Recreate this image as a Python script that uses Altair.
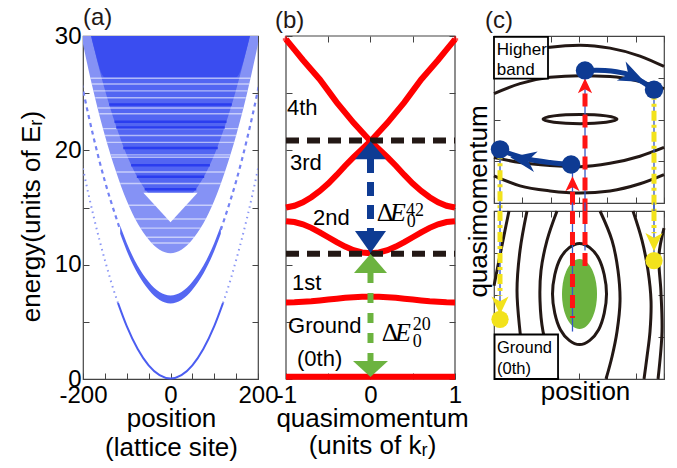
import altair as alt
import pandas as pd

FONT = "Liberation Sans"
SERIF = "Liberation Serif"
INK = "#231815"

# ---------------- panel (a): local spectrum in the trap ----------------
a_x = [-210, -200, -175, -150, -125, -100, -75, -50, -25, 0, 25, 50, 75, 100, 125, 150, 175, 200, 210]
a_band2_lo = [31.2, 29.3, 25.0, 21.3, 18.2, 15.6, 13.6, 12.2, 11.3, 11.0, 11.3, 12.2, 13.6, 15.6, 18.2, 21.3, 25.0, 29.3, 31.2]
a_band3_lo = [35.2, 33.3, 29.0, 25.3, 22.2, 19.6, 17.6, 16.2, 15.3, 15.0, 15.3, 16.2, 17.6, 19.6, 22.2, 25.3, 29.0, 33.3, 35.2]
a_top_lo = [35.2, 33.3, 29.0, 26.4, 26.4, 26.4, 26.4, 26.4, 26.4, 26.4, 26.4, 26.4, 26.4, 26.4, 26.4, 26.4, 29.0, 33.3, 35.2]

a_stripe_E = [26.3, 25.8, 25.2, 24.6, 23.7, 23.2, 21.9, 21.3, 20.7, 19.6, 19.4, 18.1, 17.1, 15.2, 14.0, 13.2, 12.4, 11.9]
a_stripe_half = [183, 180, 176, 172, 166, 163, 154, 150, 145, 137, 135, 124, 115, 96, 81, 69, 55, 44]
a_dark_E = [24.0, 22.5, 22.0, 20.2, 18.7, 17.7, 16.6, 15.6]
a_dark_half = [140, 128, 124, 108, 90, 77, 59, 36]

a_notch_x = [-62, 0, 62]
a_notch_lo = [16.3, 13.7, 16.3]

a_b1_x = [-115, -100, -75, -50, -25, 0, 25, 50, 75, 100, 115]
a_b1_lo = [12.7, 11.2, 9.2, 7.8, 6.9, 6.6, 6.9, 7.8, 9.2, 11.2, 12.7]
a_b1_hi = [13.4, 11.9, 9.9, 8.5, 7.6, 7.3, 7.6, 8.5, 9.9, 11.9, 13.4]
a_b1c_x = [-210, -200, -175, -150, -125, -115, 115, 125, 150, 175, 200, 210]
a_b1c_E = [27.2, 25.3, 21.0, 17.3, 14.2, 13.05, 13.05, 14.2, 17.3, 21.0, 25.3, 27.2]
a_b1c_side = ["L", "L", "L", "L", "L", "L", "R", "R", "R", "R", "R", "R"]

a_g_x = [-120, -100, -75, -50, -25, 0, 25, 50, 75, 100, 120]
a_g_E = [6.65, 4.63, 2.63, 1.2, 0.34, 0.05, 0.34, 1.2, 2.63, 4.63, 6.65]
a_gc_x = [-210, -200, -175, -150, -125, -120, 120, 125, 150, 175, 200, 210]
a_gc_E = [20.3, 18.4, 14.1, 10.4, 7.2, 6.65, 6.65, 7.2, 10.4, 14.1, 18.4, 20.3]
a_gc_side = ["L", "L", "L", "L", "L", "L", "R", "R", "R", "R", "R", "R"]

a_xticks = [-200, -150, -100, -50, 0, 50, 100, 150, 200]
a_yticks = [0, 5, 10, 15, 20, 25, 30]

# ---------------- panel (b): band structure ----------------
b_q = [-1.0, -0.9, -0.8, -0.7, -0.6, -0.5, -0.4, -0.3, -0.2, -0.1, 0.0,
       0.1, 0.2, 0.3, 0.4, 0.5, 0.6, 0.7, 0.8, 0.9, 1.0]
b_E0 = [0.2] * 21
b_E1 = [6.7, 6.71, 6.75, 6.8, 6.87, 6.95, 7.02, 7.1, 7.15, 7.19, 7.2,
        7.19, 7.15, 7.1, 7.02, 6.95, 6.87, 6.8, 6.75, 6.71, 6.7]
b_E2 = [13.8, 13.73, 13.53, 13.22, 12.83, 12.4, 11.97, 11.58, 11.27, 11.07, 11.0,
        11.07, 11.27, 11.58, 11.97, 12.4, 12.83, 13.22, 13.53, 13.73, 13.8]
b_E3 = [15.0, 15.15, 15.45, 15.9, 16.45, 17.1, 17.85, 18.65, 19.4, 20.1, 20.8,
        20.1, 19.4, 18.65, 17.85, 17.1, 16.45, 15.9, 15.45, 15.15, 15.0]
b_E4 = [29.7, 28.8, 27.9, 27.05, 26.2, 25.2, 24.2, 23.3, 22.4, 21.6, 20.8,
        21.6, 22.4, 23.3, 24.2, 25.2, 26.2, 27.05, 27.9, 28.8, 29.7]
b_dash_E = [20.85, 10.95]

b_lbl = ["4th", "3rd", "2nd", "1st", "Ground", "(0th)"]
b_lbl_q = [-0.988, -0.953, -0.68, -0.929, -0.976, -0.87]
b_lbl_E = [23.67, 18.85, 14.04, 8.44, 4.6, 1.75]

b_xticks = [-1, -0.5, 0, 0.5, 1]
b_yticks = [0, 5, 10, 15, 20, 25, 30]

# ---------------- panel (c): phase-space sketch ----------------
c_xticks = [0, 1, 2, 3, 4, 5, 6]
c_yticks = [0, 1, 2, 3, 4]

cu_x = [0, 0.918, 1.977, 3.036, 4.095, 5.153, 6.0]
cu_U1 = [3.32, 3.59, 3.73, 3.78, 3.71, 3.52, 3.27]
cu_U2 = [2.62, 2.86, 3.01, 3.05, 3.03, 2.91, 2.74]
cu_U3 = [1.09, 0.97, 0.90, 0.87, 0.95, 1.12, 1.33]
cu_U4 = [0.65, 0.41, 0.29, 0.24, 0.29, 0.46, 0.68]
cu_ell_x = [4.342, 3.959, 3.036, 2.113, 1.73, 2.113, 3.036, 3.959]
cu_ell_y = [2.01, 2.087, 2.119, 2.087, 2.01, 1.933, 1.901, 1.933]

cl_L1_x = [0.529, 0.353, 0.176, 0.0]
cl_L1_y = [4.0, 3.42, 2.82, 2.22]
cl_L2_x = [1.165, 0.918, 0.812, 0.918, 1.13]
cl_L2_y = [4.0, 3.06, 2.10, 1.13, 0.0]
cl_y7 = [4.0, 3.30, 2.58, 1.86, 1.13, 0.53, 0.0]
cl_L3_x = [2.224, 1.871, 1.659, 1.624, 1.73, 1.977, 2.259]
cl_R1_x = [3.742, 4.165, 4.377, 4.448, 4.342, 4.165, 3.953]
cl_R2_x = [4.906, 5.224, 5.436, 5.542, 5.506, 5.400, 5.295]
cl_R3_x = [6.0, 5.82, 5.89, 5.93, 5.79]
cl_R3_y = [3.59, 2.94, 2.10, 1.13, 0.0]
cl_ell_x = [3.971, 3.692, 3.018, 2.344, 2.065, 2.344, 3.018, 3.692]
cl_ell_y = [2.024, 2.876, 3.229, 2.876, 2.024, 1.172, 0.819, 1.172]

BLUE = "#0e3b93"
RED = "#ff1414"
YEL = "#f2e21c"
GREEN = "#6cb33f"
THIN = "#3557c7"
FRAME = "#444444"

UP_TRI_B = "M-1,0.58L0,-0.58L1,0.58Z"
DN_TRI_B = "M-1,-0.71L0,0.71L1,-0.71Z"
UP_TRI_G = "M-1,0.58L0,-0.58L1,0.58Z"
DN_TRI_G = "M-1,-0.46L0,0.46L1,-0.46Z"
ARROW_R = "M1,0L-1,-0.8L-0.4,0L-1,0.8Z"
ARROW_UP = "M0,-1L0.9,0.9L0,0.4L-0.9,0.9Z"
ARROW_DN = "M0,1L0.9,-0.9L0,-0.4L-0.9,-0.9Z"
ELLIPSE = ("M-1,0C-1,-1.1046,-0.5523,-2,0,-2C0.5523,-2,1,-1.1046,1,0"
           "C1,1.1046,0.5523,2,0,2C-0.5523,2,-1,1.1046,-1,0Z")


def sc(dom):
    return alt.Scale(domain=dom, nice=False, zero=False)


def common(off=-6):
    return dict(domain=False, grid=False, ticks=True, tickSize=6, offset=off,
                tickColor=FRAME, tickWidth=1)


def frame_axes(xdom, ydom, xticks, yticks, xmain, ymain, right_off=-6):
    d = pd.DataFrame({"fx": [xdom[0]], "fy": [ydom[0]]})
    main = alt.Chart(d).mark_point(opacity=0).encode(
        x=alt.X("fx:Q", scale=sc(xdom), axis=alt.Axis(orient="bottom", values=xticks, **common(), **xmain)),
        y=alt.Y("fy:Q", scale=sc(ydom), axis=alt.Axis(orient="left", values=yticks, **common(), **ymain)),
    )
    opp = alt.Chart(d).mark_point(opacity=0).encode(
        x=alt.X("fx:Q", scale=sc(xdom), axis=alt.Axis(orient="top", values=xticks, labels=False, title=None, **common())),
        y=alt.Y("fy:Q", scale=sc(ydom), axis=alt.Axis(orient="right", values=yticks, labels=False, title=None,
                                                      **common(right_off))),
    )
    return [main, opp]


def panel_label(txt, dx, dy):
    return alt.Chart(pd.DataFrame({"t": [txt]})).mark_text(
        align="left", baseline="middle", fontSize=24, font=FONT, color=INK
    ).encode(x=alt.value(dx), y=alt.value(dy), text="t:N")


# ======== build (a) ========
AX = [-200, 200]
AY = [0, 30]
ax_ = lambda f: alt.X(f, scale=sc(AX), axis=None)
ay_ = lambda f: alt.Y(f, scale=sc(AY), axis=None)

dfa = pd.DataFrame({"x": a_x, "b2": a_band2_lo, "b3": a_band3_lo, "tp": a_top_lo})
a_b2 = alt.Chart(dfa).mark_area(color="#8592f5", interpolate="monotone", clip=True).encode(
    x=ax_("x:Q"), y=ay_("b2:Q"), y2=alt.datum(30))
a_b3 = alt.Chart(dfa).mark_area(color="#5265f2", interpolate="monotone", clip=True).encode(
    x=ax_("x:Q"), y=ay_("b3:Q"), y2=alt.datum(30))
a_tp = alt.Chart(dfa).mark_area(color="#3a4df0", interpolate="monotone", clip=True).encode(
    x=ax_("x:Q"), y=ay_("tp:Q"), y2=alt.datum(30))

dfs = pd.DataFrame({"E": a_stripe_E, "x1": [-h for h in a_stripe_half], "x2": a_stripe_half})
a_st = alt.Chart(dfs).mark_rule(color="white", strokeWidth=1.4, opacity=0.55, clip=True).encode(
    x=ax_("x1:Q"), x2="x2:Q", y=ay_("E:Q"))
dfd = pd.DataFrame({"E": a_dark_E, "x1": [-h for h in a_dark_half], "x2": a_dark_half})
a_dk = alt.Chart(dfd).mark_rule(color="#2a3def", strokeWidth=2.5, clip=True).encode(
    x=ax_("x1:Q"), x2="x2:Q", y=ay_("E:Q"))
dfn = pd.DataFrame({"x": a_notch_x, "lo": a_notch_lo})
a_nt = alt.Chart(dfn).mark_area(color="white").encode(x=ax_("x:Q"), y=ay_("lo:Q"), y2=alt.datum(16.3))

dfb1 = pd.DataFrame({"x": a_b1_x, "lo": a_b1_lo, "hi": a_b1_hi})
a_b1 = alt.Chart(dfb1).mark_area(color="#5567f2", interpolate="monotone").encode(
    x=ax_("x:Q"), y=ay_("lo:Q"), y2="hi:Q")
dfb1c = pd.DataFrame({"x": a_b1c_x, "E": a_b1c_E, "s": a_b1c_side})
a_b1c = alt.Chart(dfb1c).mark_line(color="#7482f4", strokeWidth=2.2, strokeDash=[4, 4],
                                   interpolate="monotone", clip=True).encode(
    x=ax_("x:Q"), y=ay_("E:Q"), detail="s:N")
dfg = pd.DataFrame({"x": a_g_x, "E": a_g_E})
a_g = alt.Chart(dfg).mark_line(color="#4b5df1", strokeWidth=2, interpolate="monotone").encode(
    x=ax_("x:Q"), y=ay_("E:Q"))
dfgc = pd.DataFrame({"x": a_gc_x, "E": a_gc_E, "s": a_gc_side})
a_gc = alt.Chart(dfgc).mark_line(color="#8a96f5", strokeWidth=2, strokeDash=[1.5, 4],
                                 interpolate="monotone", clip=True).encode(
    x=ax_("x:Q"), y=ay_("E:Q"), detail="s:N")

a_axes = frame_axes(
    AX, AY, a_xticks, a_yticks,
    dict(labelExpr="datum.value == 0 ? '0' : (datum.value == -200 ? '-200' : (datum.value == 200 ? '200' : ''))",
         labelFlush=False, labelFontSize=24, labelPadding=4,
         title=["position", "(lattice site)"], titleFontSize=26, titleX=88, titleY=53,
         titleBaseline="alphabetic", titleLineHeight=29),
    dict(labelExpr="datum.value % 10 == 0 ? datum.label : ''", labelFontSize=24, labelPadding=2,
         title="energy(units of E\u1d63)", titleFontSize=26, titleX=-58, titleY=180,
         titleAngle=270, titleBaseline="middle", titleAlign="center"),
)
A = alt.layer(a_b2, a_b3, a_tp, a_st, a_dk, a_nt, a_b1, a_b1c, a_g, a_gc, *a_axes,
              panel_label("(a)", 0, -18)).resolve_axis(x="independent", y="independent").properties(
    width=175, height=343)

# ======== build (b) ========
# view is 11 px wider than the frame so that the gap before (c) is larger
BX = [-1, 1.1302]
BY = [0, 30]
bx_ = lambda f: alt.X(f, scale=sc(BX), axis=None)
by_ = lambda f: alt.Y(f, scale=sc(BY), axis=None)

rows = []
for name, es in [("0", b_E0), ("1", b_E1), ("2", b_E2), ("3", b_E3), ("4", b_E4)]:
    for q, e in zip(b_q, es):
        rows.append({"band": name, "q": q, "E": e})
dfbands = pd.DataFrame(rows)
b_frame = alt.Chart(pd.DataFrame({"q1": [-1], "q2": [1], "e1": [0], "e2": [30]})).mark_rect(
    fill="transparent", stroke=FRAME, strokeWidth=1.2).encode(
    x=bx_("q1:Q"), x2="q2:Q", y=by_("e1:Q"), y2="e2:Q")
b_lines = alt.Chart(dfbands).mark_line(color="#ff0000", strokeWidth=6).encode(
    x=bx_("q:Q"), y=by_("E:Q"), detail="band:N")
b_stars = alt.Chart(pd.DataFrame({"q": [-1, 1], "E": [29.7, 29.7]})).mark_point(
    shape="cross", filled=True, color="#ff0000", size=40).encode(x=bx_("q:Q"), y=by_("E:Q"))
dfdash = pd.DataFrame({"E": b_dash_E, "q1": [-1, -1], "q2": [1, 1]})
b_dash = alt.Chart(dfdash).mark_rule(color=INK, strokeWidth=6, strokeDash=[13, 8]).encode(
    x=bx_("q1:Q"), x2="q2:Q", y=by_("E:Q"))
dfstem = pd.DataFrame({"q": [0, 0], "e1": [19.25, 9.27], "e2": [12.95, 1.57]})
b_stem_b = alt.Chart(dfstem.iloc[[0]]).mark_rule(color=BLUE, strokeWidth=7, strokeDash=[14, 9]).encode(
    x=bx_("q:Q"), y=by_("e1:Q"), y2="e2:Q")
b_stem_g = alt.Chart(dfstem.iloc[[1]]).mark_rule(color=GREEN, strokeWidth=6, strokeDash=[10, 10]).encode(
    x=bx_("q:Q"), y=by_("e1:Q"), y2="e2:Q")
dftri = pd.DataFrame({
    "q": [0, 0, 0, 0],
    "E": [20.0, 11.99, 10.1, 0.87],
    "path": [UP_TRI_B, DN_TRI_B, UP_TRI_G, DN_TRI_G],
    "size": [961, 961, 1089, 1225],
    "col": [BLUE, BLUE, GREEN, GREEN],
})
b_tri = alt.Chart(dftri).mark_point(filled=True, opacity=1, strokeWidth=0).encode(
    x=bx_("q:Q"), y=by_("E:Q"), shape=alt.Shape("path:N", scale=None),
    size=alt.Size("size:Q", scale=None), color=alt.Color("col:N", scale=None))
dflbl = pd.DataFrame({"t": b_lbl, "q": b_lbl_q, "E": b_lbl_E})
b_txt = alt.Chart(dflbl).mark_text(align="left", baseline="middle", fontSize=22, font=FONT, color="black").encode(
    x=bx_("q:Q"), y=by_("E:Q"), text="t:N")

dfmath_big = pd.DataFrame({"t": ["\u0394", "E", "\u0394", "E"],
                           "q": [0.073, 0.231, 0.133, 0.29],
                           "E": [13.82, 13.82, 3.32, 3.32],
                           "it": ["normal", "italic", "normal", "italic"]})
b_m1 = alt.Chart(dfmath_big[dfmath_big.it == "normal"]).mark_text(
    align="left", baseline="alphabetic", fontSize=26, font=SERIF, color="black").encode(
    x=bx_("q:Q"), y=by_("E:Q"), text="t:N")
b_m2 = alt.Chart(dfmath_big[dfmath_big.it == "italic"]).mark_text(
    align="left", baseline="alphabetic", fontSize=26, font=SERIF, fontStyle="italic", color="black").encode(
    x=bx_("q:Q"), y=by_("E:Q"), text="t:N")
dfmath_small = pd.DataFrame({"t": ["42", "0", "20", "0"],
                             "q": [0.42, 0.43, 0.50, 0.50],
                             "E": [14.3, 13.3, 4.3, 2.8]})
b_m3 = alt.Chart(dfmath_small).mark_text(
    align="left", baseline="alphabetic", fontSize=18, font=SERIF, color="black").encode(
    x=bx_("q:Q"), y=by_("E:Q"), text="t:N")

b_axes = frame_axes(
    BX, BY, b_xticks, b_yticks,
    dict(labelExpr="datum.value == -1 ? '-1' : (datum.value == 0 ? '0' : (datum.value == 1 ? '1' : ''))",
         labelFlush=False, labelFontSize=24, labelPadding=4,
         title=["quasimomentum", "(units of k\u1d63)"], titleFontSize=26, titleX=86, titleY=53,
         titleBaseline="alphabetic", titleLineHeight=27),
    dict(labels=False, title=None),
    right_off=-17,
)
B = alt.layer(b_frame, b_lines, b_stars, b_dash, b_stem_b, b_stem_g, b_tri, b_txt, b_m1, b_m2, b_m3,
              *b_axes, panel_label("(b)", -11, -15)).resolve_axis(
    x="independent", y="independent").properties(
    width=180, height=343, view=alt.ViewConfig(stroke="transparent"))

# ======== build (c) ========
CX = [0, 6]
CY = [0, 4]
cx_ = lambda f: alt.X(f, scale=sc(CX), axis=None)
cy_ = lambda f: alt.Y(f, scale=sc(CY), axis=None)


def curves_df(curves):
    rows = []
    for cid, xs, ys in curves:
        for i, (x, y) in enumerate(zip(xs, ys)):
            rows.append({"cid": cid, "ord": i, "x": x, "y": y})
    return pd.DataFrame(rows)


def contour(df, interp):
    return alt.Chart(df).mark_line(color=INK, strokeWidth=3, interpolate=interp).encode(
        x=cx_("x:Q"), y=cy_("y:Q"), detail="cid:N", order="ord:Q")


def rules(df, **kw):
    return alt.Chart(df).mark_rule(**kw).encode(x=cx_("x:Q"), y=cy_("y1:Q"), y2="y2:Q")


def heads(df):
    return alt.Chart(df).mark_point(filled=True, opacity=1, strokeWidth=0).encode(
        x=cx_("x:Q"), y=cy_("y:Q"), shape=alt.Shape("path:N", scale=None),
        size=alt.Size("size:Q", scale=None), color=alt.Color("col:N", scale=None),
        angle=alt.Angle("ang:Q", scale=None))


# upper (higher band)
cu_open = contour(curves_df([("U1", cu_x, cu_U1), ("U2", cu_x, cu_U2),
                             ("U3", cu_x, cu_U3), ("U4", cu_x, cu_U4)]), "monotone")
cu_closed = contour(curves_df([("E", cu_ell_x, cu_ell_y)]), "cardinal-closed")
cu_thin = rules(pd.DataFrame({"x": [3.212, 2.77, 0.212, 5.647], "y1": [3.176, 0.92, 1.285, 2.715],
                              "y2": [-0.2, -0.2, -0.2, -0.2]}), color=THIN, strokeWidth=1.3)
cu_red = rules(pd.DataFrame({"x": [3.212, 2.77], "y1": [2.62, 0.27], "y2": [-0.2, -0.2]}),
               color=RED, strokeWidth=5, strokeDash=[13, 8])
cu_yel = rules(pd.DataFrame({"x": [0.212, 5.647], "y1": [1.285, 2.715], "y2": [-0.2, -0.2]}),
               color=YEL, strokeWidth=5, strokeDash=[10, 4, 3, 4])
cu_arcs = alt.Chart(curves_df([
    ("A1", [3.212, 3.918, 4.624, 5.153, 5.647], [3.176, 3.176, 3.103, 2.933, 2.715]),
    ("A2", [2.72, 1.977, 1.271, 0.635, 0.212], [0.921, 0.970, 1.042, 1.164, 1.285]),
])).mark_line(color=BLUE, strokeWidth=5, interpolate="cardinal").encode(
    x=cx_("x:Q"), y=cy_("y:Q"), detail="cid:N", order="ord:Q")
cu_heads = heads(pd.DataFrame({
    "x": [3.212, 2.77, 4.906, 1.024],
    "y": [2.80, 0.45, 3.03, 1.04],
    "path": [ARROW_UP, ARROW_UP, ARROW_R, ARROW_R],
    "size": [250, 250, 676, 676],
    "col": [RED, RED, BLUE, BLUE],
    "ang": [0, 0, 25, 190],
}))
cu_dots = alt.Chart(pd.DataFrame({"x": [3.212, 5.647, 0.212, 2.72], "y": [3.176, 2.715, 1.285, 0.921]})).mark_circle(
    color=BLUE, opacity=1, size=340).encode(x=cx_("x:Q"), y=cy_("y:Q"))
cu_box = alt.Chart(pd.DataFrame({"x1": [0.0], "x2": [1.906], "y1": [2.98], "y2": [3.98]})).mark_rect(
    fill="white", stroke="black", strokeWidth=1.8).encode(x=cx_("x1:Q"), x2="x2:Q", y=cy_("y1:Q"), y2="y2:Q")
cu_txt = alt.Chart(pd.DataFrame({"t": ["Higher", "band"], "x": [0.1, 0.1], "y": [3.66, 3.18]})).mark_text(
    align="left", baseline="middle", fontSize=17, font=FONT, color="black").encode(
    x=cx_("x:Q"), y=cy_("y:Q"), text="t:N")
cu_axes = frame_axes(CX, CY, c_xticks, c_yticks,
                     dict(labels=False, title=None),
                     dict(labels=False, title="quasimomentum", titleFontSize=26, titleX=-22, titleY=165,
                          titleAngle=270, titleBaseline="middle", titleAlign="center"))
CU = alt.layer(cu_open, cu_closed, cu_thin, cu_red, cu_yel, cu_arcs, cu_heads, cu_dots, cu_box, cu_txt,
               *cu_axes, panel_label("(c)", -9, -15)).resolve_axis(
    x="independent", y="independent").properties(width=170, height=167)

# lower (ground band)
cl_open = contour(curves_df([("L1", cl_L1_x, cl_L1_y), ("L2", cl_L2_x, cl_L2_y), ("L3", cl_L3_x, cl_y7),
                             ("R1", cl_R1_x, cl_y7), ("R2", cl_R2_x, cl_y7), ("R3", cl_R3_x, cl_R3_y)]),
                  "catmull-rom")
cl_closed = contour(curves_df([("E", cl_ell_x, cl_ell_y)]), "cardinal-closed")
cl_green = alt.Chart(pd.DataFrame({"x": [3.018], "y": [2.024], "path": [ELLIPSE]})).mark_point(
    filled=True, opacity=1, strokeWidth=0, color=GREEN, size=1225).encode(
    x=cx_("x:Q"), y=cy_("y:Q"), shape=alt.Shape("path:N", scale=None))
cl_thin = rules(pd.DataFrame({"x": [3.212, 2.77, 0.212, 5.647], "y1": [4.2, 4.2, 4.2, 4.2],
                              "y2": [3.06, 1.13, 1.8, 3.0]}), color=THIN, strokeWidth=1.3)
cl_red = rules(pd.DataFrame({"x": [3.212, 2.77], "y1": [4.0, 4.0], "y2": [2.63, 1.45]}),
               color=RED, strokeWidth=5, strokeDash=[13, 8])
cl_yel = rules(pd.DataFrame({"x": [0.212, 5.647], "y1": [4.0, 4.0], "y2": [1.98, 3.47]}),
               color=YEL, strokeWidth=5, strokeDash=[10, 4, 3, 4])
cl_heads = heads(pd.DataFrame({
    "x": [0.212, 5.647], "y": [1.76, 3.27], "path": [ARROW_DN, ARROW_DN],
    "size": [361, 361], "col": [YEL, YEL], "ang": [0, 0]}))
cl_dots = alt.Chart(pd.DataFrame({"x": [0.212, 5.647], "y": [1.42, 2.82]})).mark_circle(
    color=YEL, opacity=1, size=300).encode(x=cx_("x:Q"), y=cy_("y:Q"))
cl_box = alt.Chart(pd.DataFrame({"x1": [0.02], "x2": [2.26], "y1": [0.0], "y2": [1.06]})).mark_rect(
    fill="white", stroke="black", strokeWidth=1.8).encode(x=cx_("x1:Q"), x2="x2:Q", y=cy_("y1:Q"), y2="y2:Q")
cl_txt = alt.Chart(pd.DataFrame({"t": ["Ground", "(0th)"], "x": [0.106, 0.106], "y": [0.75, 0.24]})).mark_text(
    align="left", baseline="middle", fontSize=16.5, font=FONT, color="black").encode(
    x=cx_("x:Q"), y=cy_("y:Q"), text="t:N")
cl_axes = frame_axes(CX, CY, c_xticks, c_yticks,
                     dict(labels=False, title="position", titleFontSize=26, titleX=91, titleY=26,
                          titleBaseline="alphabetic"),
                     dict(labels=False, title=None))
CL = alt.layer(cl_open, cl_closed, cl_green, cl_thin, cl_red, cl_yel, cl_heads, cl_dots, cl_box, cl_txt,
               *cl_axes).resolve_axis(x="independent", y="independent").properties(width=170, height=168)

C = alt.vconcat(CU, CL, spacing=8, bounds="flush")
chart = alt.hconcat(A, B, C, spacing=28, bounds="flush").properties(
    padding={"left": 17, "top": 5, "right": 5, "bottom": 5}
).configure_view(stroke=FRAME, strokeWidth=1.2).configure_axis(
    labelFont=FONT, titleFont=FONT, labelColor="black", titleColor="black", titleFontWeight="normal"
)

chart.save("out.html", embed_options={"renderer": "svg", "actions": False})
